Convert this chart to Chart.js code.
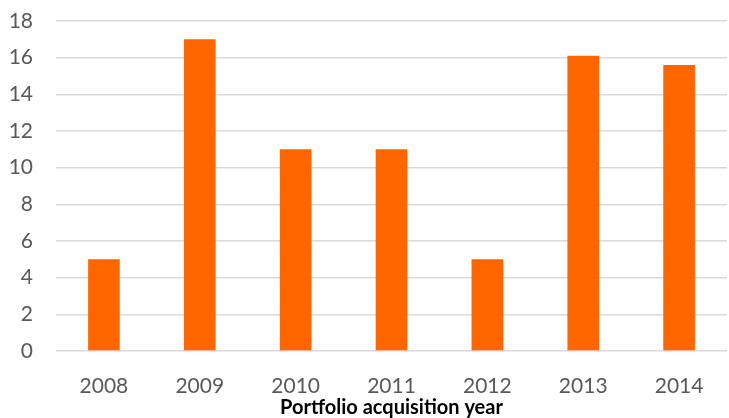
<!DOCTYPE html>
<html>
<head>
<meta charset="utf-8">
<script src="https://cdn.jsdelivr.net/npm/chart.js@4"></script>
<style>
  html, body { margin: 0; padding: 0; background: #fff; }
  #wrap { width: 729px; height: 418px; }
</style>
</head>
<body>
<div id="wrap"><canvas id="barchart"></canvas></div>
<script>
// dados
const anos = ["2008", "2009", "2010", "2011", "2012", "2013", "2014"];
const valores = [5, 17, 11, 11, 5, 16.1, 15.6];
const tituloX = "Portfolio acquisition year";

document.addEventListener("DOMContentLoaded", function () {
    let ctx = document.getElementById("barchart").getContext("2d");
    new Chart(ctx, {
        type: "bar",
        data: {
            labels: anos,
            datasets: [{
                data: valores,
                backgroundColor: "#ff6600",
                borderWidth: 0,
                categoryPercentage: 1,
                barPercentage: 0.33
            }]
        },
        options: {
            responsive: true,
            maintainAspectRatio: false,
            animation: false,
            layout: { padding: { top: 21, right: 2, left: 0, bottom: 0 } },
            plugins: {
                legend: { display: false },
                tooltip: { enabled: false }
            },
            scales: {
                x: {
                    grid: { display: false },
                    border: { display: false },
                    ticks: {
                        color: "#595959",
                        font: { family: "Lato", size: 21 },
                        padding: 15
                    },
                    title: {
                        display: true,
                        text: tituloX,
                        color: "#000",
                        font: { family: "Lato", size: 20, weight: "bold" },
                        padding: { top: 0, bottom: -2 }
                    },
                    afterFit: function (scale) { scale.height = 67; }
                },
                y: {
                    min: 0,
                    max: 18,
                    ticks: {
                        stepSize: 2,
                        color: "#595959",
                        font: { family: "Lato", size: 21 },
                        padding: 23
                    },
                    grid: { color: "#d9d9d9", lineWidth: 1.5, drawTicks: false },
                    border: { display: false },
                    afterFit: function (scale) {
                        scale.width = 56;
                        scale.paddingTop = 0;
                        scale.paddingBottom = 0;
                    }
                }
            }
        }
    });
});
</script>
</body>
</html>
